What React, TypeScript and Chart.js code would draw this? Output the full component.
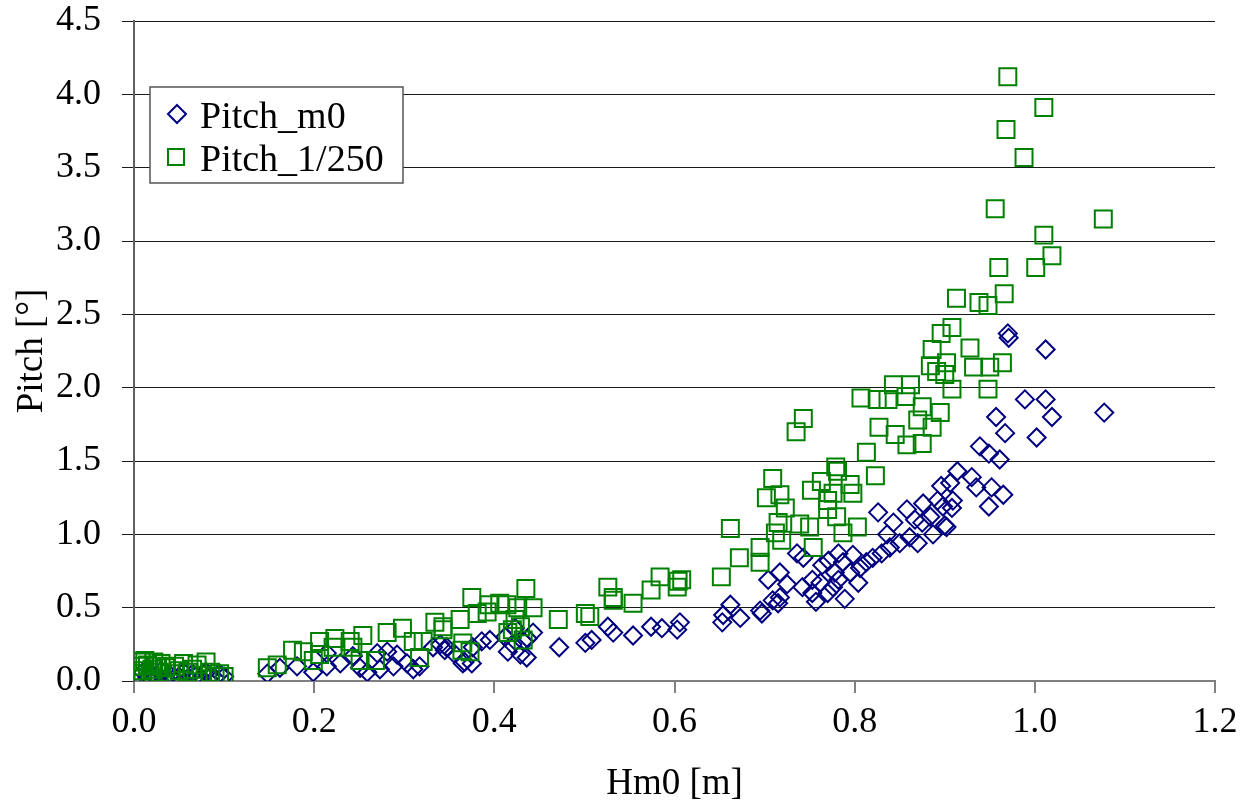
import React, { useEffect, useRef } from "react";
import { Chart, registerables } from "chart.js";

Chart.register(...registerables);

// ---- Data ----
const seriesNames = ["Pitch_m0", "Pitch_1/250"];

const m0X = [
  0.005, 0.01, 0.015, 0.02, 0.025, 0.03, 0.035, 0.04, 0.045, 0.05, 0.055, 0.06, 0.065, 0.07, 0.075, 0.08, 0.085, 0.09, 0.095, 0.1,
  0.148, 0.162, 0.181, 0.199, 0.214, 0.214, 0.229, 0.243, 0.251, 0.259, 0.27, 0.273, 0.281, 0.288, 0.292, 0.303, 0.31, 0.317,
  0.332, 0.34, 0.345, 0.347, 0.355, 0.365, 0.367, 0.375, 0.376, 0.386, 0.395, 0.412, 0.415, 0.42, 0.423, 0.429, 0.432, 0.436, 0.437, 0.443,
  0.472, 0.501, 0.508, 0.526, 0.532, 0.554, 0.574, 0.586, 0.603, 0.606, 0.653, 0.654, 0.662, 0.673, 0.695, 0.697,
  0.704, 0.709, 0.715, 0.717, 0.717, 0.725, 0.736, 0.742, 0.743, 0.753, 0.753, 0.757, 0.762, 0.764, 0.77, 0.771, 0.776, 0.778,
  0.782, 0.782, 0.787, 0.789, 0.795, 0.798, 0.804, 0.806, 0.813, 0.82, 0.826, 0.83, 0.836, 0.839, 0.843, 0.85, 0.858, 0.861,
  0.867, 0.87, 0.875, 0.876, 0.884, 0.887, 0.892, 0.896, 0.898, 0.9, 0.902, 0.906, 0.908, 0.909, 0.914, 0.93, 0.935, 0.939,
  0.949, 0.949, 0.952, 0.957, 0.961, 0.965, 0.967, 0.97, 0.971, 0.989, 1.002, 1.012, 1.012, 1.019, 1.077,
];
const m0Y = [
  0.03, 0.06, 0.02, 0.05, 0.03, 0.07, 0.02, 0.04, 0.02, 0.03, 0.06, 0.02, 0.05, 0.04, 0.02, 0.06, 0.03, 0.02, 0.05, 0.03,
  0.05, 0.09, 0.1, 0.06, 0.1, 0.19, 0.12, 0.17, 0.09, 0.06, 0.19, 0.08, 0.2, 0.1, 0.18, 0.12, 0.08, 0.1,
  0.23, 0.25, 0.21, 0.23, 0.19, 0.12, 0.13, 0.12, 0.23, 0.27, 0.28, 0.3, 0.2, 0.25, 0.36, 0.18, 0.27, 0.16, 0.29, 0.33,
  0.23, 0.26, 0.28, 0.37, 0.33, 0.31, 0.37, 0.36, 0.35, 0.4, 0.4, 0.45, 0.52, 0.43, 0.48, 0.46,
  0.69, 0.55, 0.53, 0.57, 0.74, 0.66, 0.87, 0.64, 0.84, 0.6, 0.69, 0.54, 0.67, 0.79, 0.6, 0.82, 0.64, 0.74,
  0.69, 0.87, 0.81, 0.56, 0.74, 0.86, 0.67, 0.77, 0.81, 0.84, 1.15, 0.87, 1.0, 0.91, 1.08, 0.94, 1.17, 0.98,
  1.1, 0.94, 1.08, 1.21, 1.12, 1.0, 1.23, 1.33, 1.19, 1.06, 1.05, 1.35, 1.18, 1.23, 1.43, 1.39, 1.32, 1.6,
  1.55, 1.19, 1.32, 1.8, 1.51, 1.27, 1.69, 2.37, 2.34, 1.92, 1.66, 1.92, 2.26, 1.8, 1.83,
];

const p250X = [
  0.003, 0.005, 0.008, 0.01, 0.012, 0.015, 0.018, 0.02, 0.022, 0.025, 0.028, 0.03, 0.035, 0.04, 0.045, 0.05, 0.055, 0.06, 0.065, 0.07,
  0.075, 0.08, 0.085, 0.09, 0.095, 0.1,
  0.148, 0.159, 0.176, 0.188, 0.199, 0.206, 0.206, 0.221, 0.223, 0.24, 0.243, 0.251, 0.254, 0.268, 0.281, 0.298, 0.31, 0.317,
  0.321, 0.334, 0.343, 0.343, 0.362, 0.364, 0.365, 0.373, 0.375, 0.381, 0.392, 0.394, 0.406, 0.414, 0.415, 0.42, 0.423, 0.426,
  0.429, 0.432, 0.435, 0.443,
  0.471, 0.501, 0.506, 0.526, 0.532, 0.532, 0.554, 0.574, 0.584, 0.603, 0.604, 0.608, 0.652, 0.662, 0.672, 0.695, 0.695, 0.702,
  0.709, 0.712, 0.715, 0.717, 0.719, 0.723, 0.735, 0.739, 0.743, 0.75, 0.752, 0.754, 0.763, 0.77, 0.77, 0.776, 0.779, 0.781,
  0.78, 0.787, 0.795, 0.798, 0.803, 0.807, 0.813, 0.823, 0.825, 0.827, 0.837, 0.843, 0.845, 0.857, 0.858, 0.862, 0.87, 0.875,
  0.875, 0.884, 0.886, 0.886, 0.891, 0.895, 0.896, 0.9, 0.902, 0.908, 0.908, 0.913, 0.928, 0.932, 0.938, 0.948, 0.948, 0.95,
  0.956, 0.96, 0.964, 0.966, 0.968, 0.97, 0.988, 1.001, 1.01, 1.01, 1.019, 1.076,
];
const p250Y = [
  0.05, 0.1, 0.13, 0.07, 0.14, 0.11, 0.04, 0.08, 0.13, 0.1, 0.06, 0.12, 0.09, 0.05, 0.1, 0.07, 0.12, 0.06, 0.08, 0.11,
  0.04, 0.13, 0.06, 0.03, 0.05, 0.03,
  0.09, 0.11, 0.21, 0.2, 0.14, 0.27, 0.18, 0.23, 0.29, 0.27, 0.23, 0.14, 0.31, 0.14, 0.33, 0.36, 0.27, 0.16,
  0.27, 0.4, 0.35, 0.37, 0.42, 0.21, 0.26, 0.2, 0.57, 0.46, 0.47, 0.52, 0.53, 0.52, 0.33, 0.35, 0.42, 0.5,
  0.37, 0.28, 0.63, 0.5,
  0.42, 0.46, 0.44, 0.64, 0.57, 0.55, 0.53, 0.62, 0.71, 0.64, 0.68, 0.69, 0.71, 1.04, 0.84, 0.81, 0.91, 1.25,
  1.38, 1.01, 1.08, 1.27, 0.96, 1.18, 1.7, 1.07, 1.79, 1.05, 1.3, 0.91, 1.36, 1.23, 1.17, 1.28, 1.46, 1.43,
  1.12, 1.01, 1.34, 1.28, 1.05, 1.93, 1.56, 1.4, 1.92, 1.73, 1.92, 2.02, 1.68, 1.94, 1.61, 2.02, 1.78, 1.87,
  1.62, 2.15, 2.26, 1.73, 2.11, 1.83, 2.37, 2.09, 2.17, 2.41, 1.99, 2.61, 2.27, 2.14, 2.58, 2.56, 1.99, 2.14,
  3.22, 2.82, 2.17, 2.64, 3.76, 4.12, 3.57, 2.82, 3.04, 3.91, 2.9, 3.15,
];

const xTitle = "Hm0 [m]";
const yTitle = "Pitch [°]";

const FONT_FAMILY = '"Liberation Serif", "Times New Roman", serif';
const BLUE = "#000080";
const GREEN = "#008000";

const toPoints = (xs: number[], ys: number[]) => xs.map((x, i) => ({ x, y: ys[i] }));

const legendPlugin = {
  id: "boxLegend",
  afterDraw(chart: any) {
    const ctx = chart.ctx as CanvasRenderingContext2D;
    const bx = 150, by = 87, bw = 253, bh = 96;
    ctx.save();
    ctx.fillStyle = "#fff";
    ctx.fillRect(bx, by, bw, bh);
    ctx.strokeStyle = "#555";
    ctx.lineWidth = 1.5;
    ctx.strokeRect(bx, by, bw, bh);
    ctx.font = `38px ${FONT_FAMILY}`;
    ctx.fillStyle = "#000";
    ctx.textBaseline = "alphabetic";
    ctx.textAlign = "left";
    const ds = chart.data.datasets;
    ctx.lineWidth = 2;
    ctx.strokeStyle = ds[0].borderColor;
    const dx = 177, dy = 114, dr = 9;
    ctx.beginPath();
    ctx.moveTo(dx, dy - dr);
    ctx.lineTo(dx + dr, dy);
    ctx.lineTo(dx, dy + dr);
    ctx.lineTo(dx - dr, dy);
    ctx.closePath();
    ctx.stroke();
    ctx.fillText(ds[0].label, 200, 128);
    ctx.strokeStyle = ds[1].borderColor;
    ctx.strokeRect(168, 149, 16, 16);
    ctx.fillText(ds[1].label, 200, 171);
    ctx.restore();
  },
};

export default function App() {
  const ref = useRef<HTMLCanvasElement>(null);
  useEffect(() => {
    const font = { family: FONT_FAMILY, size: 36 };
    const chart = new Chart(ref.current as HTMLCanvasElement, {
      type: "scatter",
      data: {
        datasets: [
          {
            label: seriesNames[0],
            data: toPoints(m0X, m0Y),
            pointStyle: "rectRot",
            pointRadius: 9,
            pointBorderWidth: 2,
            borderColor: BLUE,
            pointBorderColor: BLUE,
            pointBackgroundColor: "rgba(0,0,0,0)",
            backgroundColor: "rgba(0,0,0,0)",
            order: 1,
          },
          {
            label: seriesNames[1],
            data: toPoints(p250X, p250Y),
            pointStyle: "rect",
            pointRadius: 12,
            pointBorderWidth: 2,
            borderColor: GREEN,
            pointBorderColor: GREEN,
            pointBackgroundColor: "rgba(0,0,0,0)",
            backgroundColor: "rgba(0,0,0,0)",
            order: 0,
          },
        ],
      },
      options: {
        responsive: false,
        animation: false,
        events: [],
        layout: { padding: { left: 0, top: 21, right: 37, bottom: 0 } },
        plugins: { legend: { display: false }, tooltip: { enabled: false } },
        scales: {
          x: {
            type: "linear",
            min: 0,
            max: 1.2,
            afterFit: (s: any) => {
              s.height = 126;
              s.paddingLeft = 0;
              s.paddingRight = 0;
            },
            ticks: {
              stepSize: 0.2,
              autoSkip: false,
              maxRotation: 0,
              padding: 8,
              color: "#000",
              font,
              callback: (v: any) => Number(v).toFixed(1),
            },
            grid: {
              drawOnChartArea: false,
              drawTicks: true,
              tickLength: 12,
              color: "#808080",
              lineWidth: 2,
            },
            border: { display: true, color: "#808080", width: 2 },
            title: {
              display: true,
              text: xTitle,
              color: "#000",
              font: { family: FONT_FAMILY, size: 37 },
              padding: { top: 0, bottom: 1 },
            },
          },
          y: {
            type: "linear",
            min: 0,
            max: 4.5,
            afterFit: (s: any) => {
              s.width = 134;
              s.paddingTop = 0;
              s.paddingBottom = 0;
            },
            ticks: {
              stepSize: 0.5,
              autoSkip: false,
              padding: 21,
              color: "#000",
              font,
              callback: (v: any) => Number(v).toFixed(1),
            },
            grid: {
              drawOnChartArea: true,
              drawTicks: true,
              tickLength: 12,
              color: "#1a1a1a",
              lineWidth: 1,
            },
            border: { display: true, color: "#606060", width: 2 },
            title: {
              display: true,
              text: yTitle,
              color: "#000",
              font: { family: FONT_FAMILY, size: 37 },
              padding: { top: 10, bottom: 0 },
            },
          },
        },
      },
      plugins: [legendPlugin],
    });
    return () => chart.destroy();
  }, []);
  return (
    <div style={{ position: "fixed", left: 0, top: 0, width: 1252, height: 807, background: "#fff" }}>
      <canvas ref={ref} width={1252} height={807} style={{ display: "block" }} />
    </div>
  );
}
